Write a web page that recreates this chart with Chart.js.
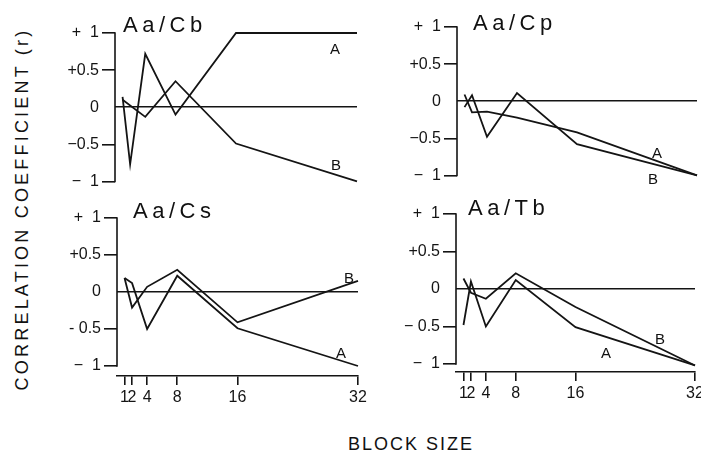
<!DOCTYPE html>
<html><head><meta charset="utf-8">
<script src="https://cdn.jsdelivr.net/npm/chart.js@4.4.1/dist/chart.umd.min.js"></script>
<style>
html,body{margin:0;padding:0;background:#fff;width:701px;height:455px;overflow:hidden;position:relative;font-family:'Liberation Sans',Arial,sans-serif;color:#111}
canvas{position:absolute}
.t{position:absolute;white-space:nowrap;line-height:1;z-index:5}
.title{font-size:22px;letter-spacing:4.5px}
.lab{font-size:15px;transform:translate(-50%,-50%)}
#ytitle{position:absolute;left:-178px;top:199px;width:400px;height:20px;line-height:20px;text-align:center;font-size:18px;letter-spacing:3.2px;transform:rotate(-90deg);white-space:nowrap}
#xtitle{position:absolute;left:311px;top:434px;width:200px;height:20px;line-height:20px;text-align:center;font-size:18px;letter-spacing:2px}
</style></head><body>
<div id="ytitle">CORRELATION COEFFICIENT (r)</div>
<div id="xtitle">BLOCK SIZE</div>
<div class="t title" style="left:123px;top:14px">Aa/Cb</div>
<div class="t title" style="left:473px;top:12px">Aa/Cp</div>
<div class="t title" style="left:133px;top:200px">Aa/Cs</div>
<div class="t title" style="left:468px;top:197px">Aa/Tb</div>
<div class="t lab" style="left:335px;top:48px">A</div>
<div class="t lab" style="left:336px;top:164px">B</div>
<div class="t lab" style="left:657px;top:152px">A</div>
<div class="t lab" style="left:653px;top:178px">B</div>
<div class="t lab" style="left:349px;top:277px">B</div>
<div class="t lab" style="left:341px;top:352px">A</div>
<div class="t lab" style="left:660px;top:338px">B</div>
<div class="t lab" style="left:606px;top:352px">A</div>
<script>
// ---- data ----
const blockSizes = [1, 2, 4, 8, 16, 32];
const xTickLabels = ['1', '2', '4', '8', '16', '32'];
const yTickValues = [1, 0.5, 0, -0.5, -1];
const yLabelsCb = ['+  1', '+0.5', '0', '\u22120.5', '\u2212  1'];
const yLabelsCp = ['+  1', '+0.5', '0', '\u22120.5', '\u2212  1'];
const yLabelsCs = ['+  1', '+0.5', '0', '- 0.5', '\u2212  1'];
const yLabelsTb = ['+  1', '+0.5', '0', '\u2212 0.5', '\u2212  1'];

// Aa/Cb
const cbA = [0.14, -0.77, 0.72, -0.10, 1.0, 1.0];
const cbB = [0.10, null, -0.13, 0.35, -0.49, -1.0];
// Aa/Cp
const cpA = [0.09, -0.15, -0.14, -0.22, -0.42, -1.0];
const cpB = [-0.08, 0.08, -0.48, 0.11, -0.58, -1.0];
// Aa/Cs
const csA = [0.19, 0.12, -0.50, 0.22, -0.49, -1.0];
const csB = [0.19, -0.21, 0.07, 0.30, -0.41, 0.15];
// Aa/Tb
const tbA = [-0.48, 0.10, -0.50, 0.12, -0.51, -1.02];
const tbB = [0.14, -0.05, -0.13, 0.21, -0.24, -1.02];

// ---- drawing ----
const INK = '#141414';
const FONT = "'Liberation Sans', Arial, sans-serif";

const yAxisLine = {
  id: 'yAxisLine',
  afterDatasetsDraw(chart) {
    const {ctx, chartArea, scales} = chart;
    const y = scales.y;
    ctx.save();
    ctx.strokeStyle = INK;
    ctx.lineWidth = 1.6;
    ctx.beginPath();
    ctx.moveTo(chartArea.left, y.getPixelForValue(1) - 0.8);
    ctx.lineTo(chartArea.left, y.getPixelForValue(-1) + 0.8);
    ctx.stroke();
    ctx.restore();
  }
};

function toPoints(arr) {
  return blockSizes.map((x, i) => ({x: x, y: arr[i]}));
}

function makePanel(p) {
  const c = document.createElement('canvas');
  c.width = p.w; c.height = p.h;
  c.style.left = p.left + 'px'; c.style.top = p.top + 'px';
  c.style.width = p.w + 'px'; c.style.height = p.h + 'px';
  document.body.appendChild(c);
  const ds = s => ({
    data: toPoints(s), borderColor: INK, borderWidth: 1.8, pointRadius: 0,
    tension: 0, spanGaps: true, clip: false, fill: false
  });
  new Chart(c, {
    type: 'line',
    data: {datasets: [ds(p.a), ds(p.b)]},
    plugins: [yAxisLine],
    options: {
      responsive: false, animation: false, devicePixelRatio: 1,
      layout: {padding: {left: 0, top: 14, right: p.padRight, bottom: p.padBottom}},
      plugins: {legend: {display: false}, tooltip: {enabled: false}},
      scales: {
        x: {
          type: 'linear', min: 0, max: 32, display: p.showX,
          afterBuildTicks: s => { s.ticks = blockSizes.map(v => ({value: v})); },
          afterFit: s => { s.height = p.showX ? 40 : 0; },
          ticks: {
            autoSkip: false, maxRotation: 0, padding: 3, color: INK,
            font: {family: FONT, size: 16},
            callback: v => xTickLabels[blockSizes.indexOf(v)]
          },
          grid: {drawOnChartArea: false, drawTicks: true, tickLength: 9, color: INK, tickColor: INK, lineWidth: 1.6},
          border: {display: true, color: INK, width: 1.6}
        },
        y: {
          type: 'linear', min: p.yMin, max: 1,
          afterBuildTicks: s => { s.ticks = yTickValues.map(v => ({value: v})); },
          afterFit: s => { s.width = 70; },
          ticks: {
            autoSkip: false, padding: 3, color: INK,
            font: {family: FONT, size: 16},
            callback: v => p.yLabels[yTickValues.indexOf(v)]
          },
          grid: {
            drawTicks: true, tickLength: 13, lineWidth: 1.6,
            color: c => (c.tick && c.tick.value === 0) ? INK : 'rgba(0,0,0,0)',
            tickColor: c => (c.tick && c.tick.value === 0) ? 'rgba(0,0,0,0)' : INK
          },
          border: {display: false}
        }
      }
    }
  });
}

makePanel({left: 45, top: 19, w: 316, h: 175, padRight: 4, padBottom: 10, showX: false, yMin: -1, yLabels: yLabelsCb, a: cbA, b: cbB});
makePanel({left: 387, top: 13, w: 314, h: 175, padRight: 4, padBottom: 10, showX: false, yMin: -1, yLabels: yLabelsCp, a: cpA, b: cpB});
makePanel({left: 47, top: 204, w: 323, h: 212, padRight: 12, padBottom: 0, showX: true, yMin: -1.135, yLabels: yLabelsCs, a: csA, b: csB});
makePanel({left: 386, top: 200, w: 321, h: 212, padRight: 12, padBottom: 0, showX: true, yMin: -1.107, yLabels: yLabelsTb, a: tbA, b: tbB});
</script>
</body></html>
